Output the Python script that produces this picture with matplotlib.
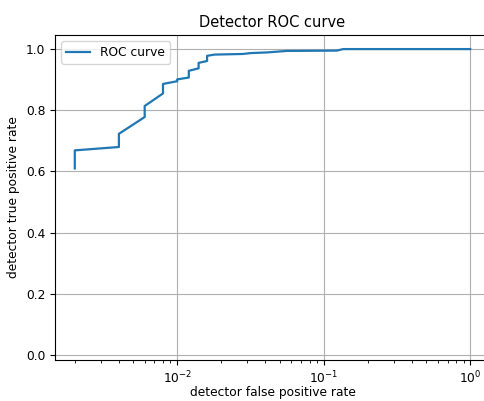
import matplotlib
matplotlib.use("Agg")
import matplotlib.pyplot as plt

# ROC points (fpr on log axis)
fpr = [0.002, 0.002, 0.004, 0.004, 0.006, 0.006, 0.008, 0.008, 0.010, 0.010,
       0.012, 0.012, 0.014, 0.014, 0.016, 0.016, 0.018, 0.028, 0.032, 0.041,
       0.056, 0.123, 0.136, 1.0]
tpr = [0.610, 0.669, 0.680, 0.723, 0.778, 0.814, 0.855, 0.886, 0.895, 0.901,
       0.907, 0.929, 0.937, 0.955, 0.961, 0.978, 0.982, 0.984, 0.987, 0.989,
       0.994, 0.995, 1.0, 1.0]
yticks = [0.0, 0.2, 0.4, 0.6, 0.8, 1.0]

fig = plt.figure(figsize=(4.84, 4.01), dpi=100)
ax = fig.add_axes([55/484, 41/401, 435/484, 325/401])

ax.plot(fpr, tpr, label="ROC curve", color="#1f77b4", lw=1.6)
ax.set_xscale("log")
ax.set_xlim(10**-2.834, 10**0.135)
ax.set_ylim(-0.016, 1.046)
ax.set_yticks(yticks)
ax.grid(True)

ax.set_title("Detector ROC curve", fontsize=10.5)
ax.set_xlabel("detector false positive rate", fontsize=8.8, labelpad=0)
ax.set_ylabel("detector true positive rate", fontsize=8.8)
ax.tick_params(labelsize=8.8)
ax.legend(loc="upper left", fontsize=8.8)

fig.savefig("out.png", dpi=100)
